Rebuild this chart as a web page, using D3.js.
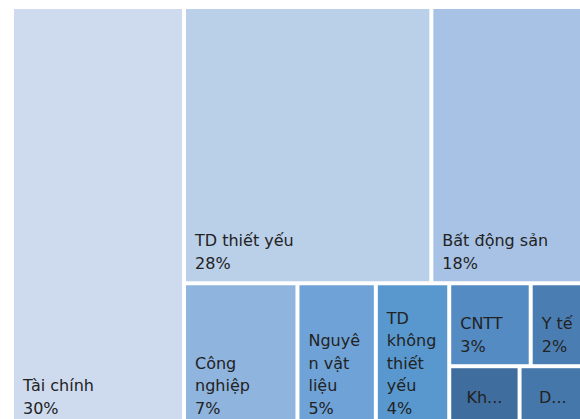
<!DOCTYPE html>
<html>
<head>
<meta charset="utf-8">
<script src="https://cdn.jsdelivr.net/npm/d3@7"></script>
<style>
    body { margin: 0; background: #ffffff; }
    svg { display: block; }
    text { font-family: "DejaVu Sans", sans-serif; font-size: 16px; fill: #222222; }
</style>
</head>
<body>
<div id="canvas"></div>
<script>
"use strict"

// DATA - sector weights (%)

let sectors = ["Tài chính", "TD thiết yếu", "Bất động sản", "Công nghiệp", "Nguyên vật liệu",
    "TD không thiết yếu", "CNTT", "Y tế", "Kh...", "D..."];
let shares = [30.0, 28.3, 17.7, 6.8, 4.7, 4.4, 2.8, 1.9, 1.8, 1.7];

// fills go from pale to dark blue as the sectors get smaller
let palette = ["#cedbee", "#bacfe8", "#a8c2e5", "#8fb4de", "#6fa3d7",
    "#5898ce", "#548bc2", "#4a7eb3", "#3f6d9e", "#4677ab"];


// Canvas dimensions

let svgWidth = 580;
let svgHeight = 419;

let leftMargin = 14;
let topMargin = 9;

let chartWidth = 570;
let chartHeight = 417; // runs a little past the bottom edge, like the original

let lineHeight = 22.5;
let padX = 9;
let padBottom = 12.5;


let svg = d3.select("#canvas")
    .append("svg")
    .attr("width", svgWidth)
    .attr("height", svgHeight);

let chart = svg.append("g")
    .attr("transform", "translate(" + leftMargin + "," + topMargin + ")");


// TILING - squarified strips, but aiming for cells a bit taller than wide
// (that is what gives the Excel look: Tài chính alone in the first column)

let targetAspect = 0.7;

function stripWorst(row, sum, total, dx, dy, across) {
    let worst = 0;
    row.forEach(function (node) {
        let w, h;
        if (across) {
            h = sum / total * dy;
            w = node.value / sum * dx;
        } else {
            w = sum / total * dx;
            h = node.value / sum * dy;
        }
        let r = (w / h) / targetAspect;
        worst = Math.max(worst, r, 1 / r);
    });
    return worst;
}

function excelTile(parent, x0, y0, x1, y1) {
    let nodes = parent.children;
    let total = parent.value;
    let i0 = 0;

    while (i0 < nodes.length) {
        let dx = x1 - x0;
        let dy = y1 - y0;
        let across = dx < dy; // strip along the shorter side
        let i1 = i0 + 1;
        let sum = nodes[i0].value;
        let worst = stripWorst(nodes.slice(i0, i1), sum, total, dx, dy, across);

        while (i1 < nodes.length) {
            let nextSum = sum + nodes[i1].value;
            let nextWorst = stripWorst(nodes.slice(i0, i1 + 1), nextSum, total, dx, dy, across);
            if (nextWorst > worst) break;
            sum = nextSum;
            worst = nextWorst;
            i1++;
        }

        let strip = { value: sum, children: nodes.slice(i0, i1) };
        if (across) {
            let yEnd = y0 + dy * sum / total;
            d3.treemapDice(strip, x0, y0, x1, yEnd);
            y0 = yEnd;
        } else {
            let xEnd = x0 + dx * sum / total;
            d3.treemapSlice(strip, x0, y0, xEnd, y1);
            x0 = xEnd;
        }
        total -= sum;
        i0 = i1;
    }
}


// HIERARCHY + LAYOUT

let items = sectors.map(function (name, i) {
    return { name: name, value: shares[i] };
});

let root = d3.hierarchy({ children: items })
    .sum(function (d) { return d.value; })
    .sort(function (a, b) { return b.value - a.value; });

d3.treemap()
    .tile(excelTile)
    .size([chartWidth, chartHeight])
    .paddingInner(4)(root);

let leaves = root.leaves();

let colorScale = d3.scaleOrdinal()
    .domain(sectors)
    .range(palette);


// RECTANGLES

chart.selectAll("rect")
    .data(leaves)
    .join("rect")
    .attr("x", function (d) { return d.x0; })
    .attr("y", function (d) { return d.y0; })
    .attr("width", function (d) { return d.x1 - d.x0; })
    .attr("height", function (d) { return d.y1 - d.y0; })
    .attr("fill", function (d) { return colorScale(d.data.name); });


// LABELS - wrapped like Excel does it, long words get cut by characters

let probe = chart.append("text");

function measure(str) {
    probe.text(str);
    return probe.node().getComputedTextLength();
}

function wrapLines(text, maxWidth) {
    let lines = [];
    let current = "";
    text.split(" ").forEach(function (word) {
        let attempt = current ? current + " " + word : word;
        if (measure(attempt) <= maxWidth) {
            current = attempt;
            return;
        }
        if (current) lines.push(current);
        current = "";
        for (let ch of word) {
            if (current && measure(current + ch) > maxWidth) {
                lines.push(current);
                current = ch;
            } else {
                current += ch;
            }
        }
    });
    if (current) lines.push(current);
    return lines;
}

leaves.forEach(function (leaf) {
    let w = leaf.x1 - leaf.x0;
    let h = leaf.y1 - leaf.y0;
    let lines = wrapLines(leaf.data.name, w - 2 * padX);
    lines.push(Math.round(leaf.data.value) + "%");

    let label = chart.append("text");

    if (lines.length * lineHeight + 20 > h) {
        // not enough room: name only, centred
        label.attr("x", (leaf.x0 + leaf.x1) / 2)
            .attr("y", (leaf.y0 + leaf.y1) / 2)
            .attr("dy", "0.36em")
            .style("text-anchor", "middle")
            .text(leaf.data.name);
    } else {
        lines.forEach(function (line, i) {
            label.append("tspan")
                .attr("x", leaf.x0 + padX)
                .attr("y", leaf.y1 - padBottom - (lines.length - 1 - i) * lineHeight)
                .text(line);
        });
    }
});

probe.remove();
</script>
</body>
</html>
